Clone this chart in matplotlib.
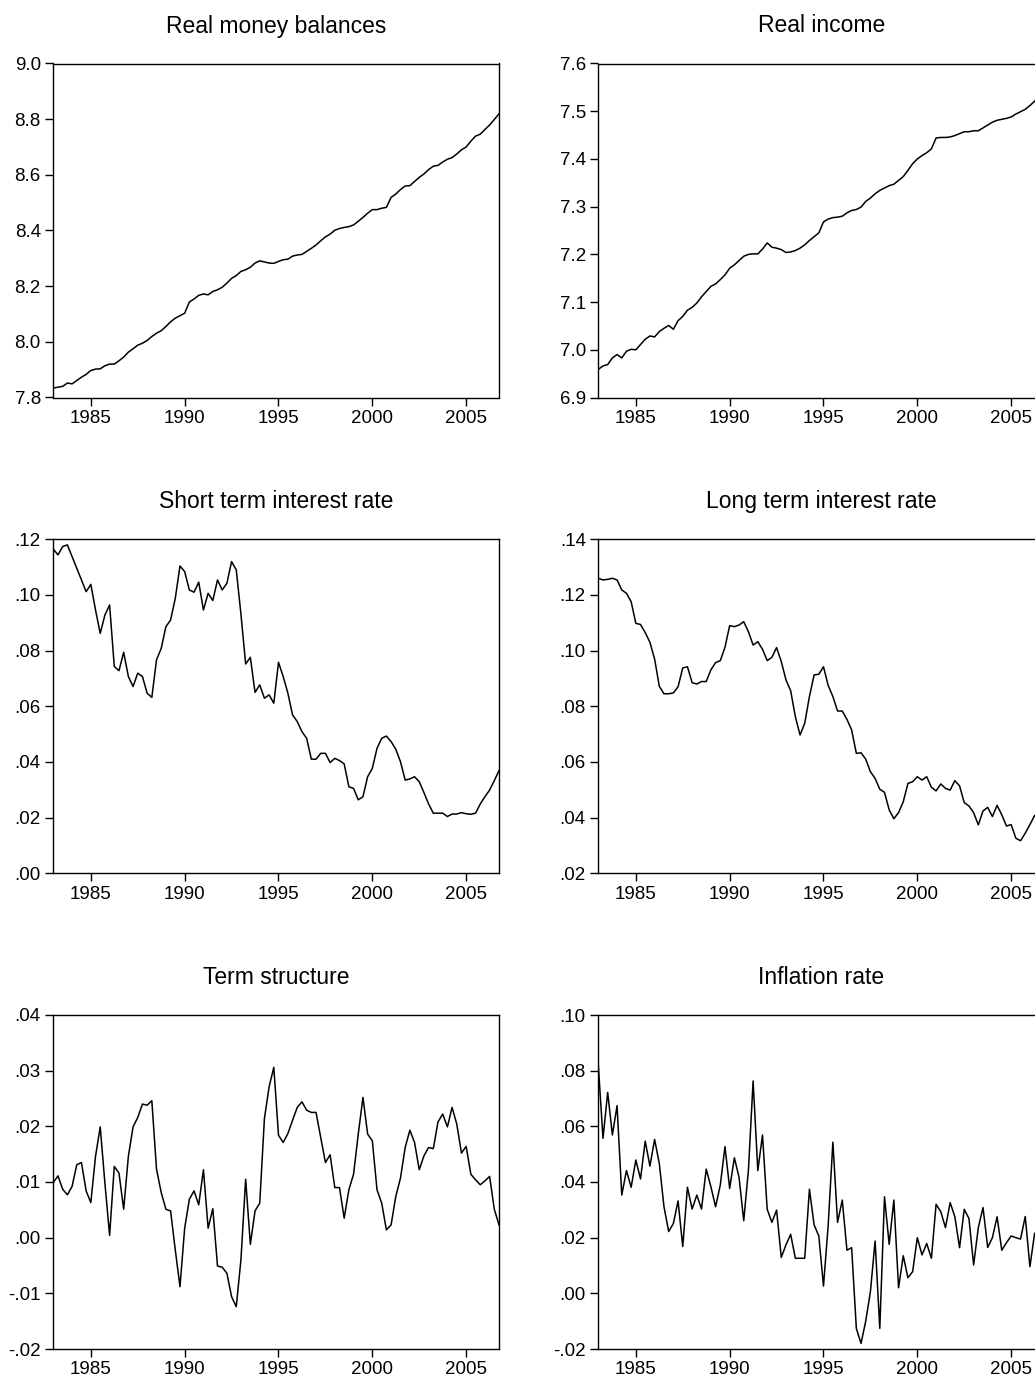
import matplotlib
matplotlib.use("Agg")
import matplotlib.pyplot as plt
import matplotlib.transforms as mtransforms
from matplotlib.ticker import FuncFormatter, MultipleLocator
import numpy as np

plt.rcParams['font.family'] = ['Liberation Sans', 'DejaVu Sans']

# quarterly observations 1983Q1 - 2006Q4
start_year = 1983
n_obs = 96
dates = start_year + np.arange(n_obs) * 0.25

real_money = [
    7.834, 7.837, 7.840, 7.852, 7.849, 7.861, 7.873, 7.883, 7.897, 7.902,
    7.903, 7.914, 7.920, 7.920, 7.932, 7.945, 7.963, 7.975, 7.988, 7.995,
    8.005, 8.019, 8.031, 8.040, 8.055, 8.072, 8.085, 8.094, 8.103, 8.143,
    8.154, 8.167, 8.172, 8.169, 8.181, 8.187, 8.196, 8.211, 8.228, 8.238,
    8.253, 8.259, 8.268, 8.283, 8.291, 8.287, 8.283, 8.282, 8.289, 8.295,
    8.297, 8.308, 8.312, 8.314, 8.325, 8.336, 8.348, 8.363, 8.377, 8.387,
    8.401, 8.407, 8.411, 8.414, 8.420, 8.433, 8.447, 8.462, 8.475, 8.475,
    8.480, 8.483, 8.519, 8.531, 8.547, 8.560, 8.561, 8.576, 8.591, 8.603,
    8.619, 8.631, 8.634, 8.646, 8.656, 8.662, 8.675, 8.690, 8.700, 8.721,
    8.739, 8.746, 8.763, 8.779, 8.799, 8.819,
]

real_income = [
    6.959, 6.966, 6.969, 6.983, 6.990, 6.983, 6.997, 7.001, 7.000, 7.011,
    7.022, 7.029, 7.027, 7.038, 7.045, 7.051, 7.043, 7.061, 7.070, 7.083,
    7.089, 7.098, 7.111, 7.122, 7.133, 7.138, 7.147, 7.157, 7.171, 7.178,
    7.187, 7.196, 7.200, 7.201, 7.201, 7.211, 7.224, 7.215, 7.213, 7.210,
    7.204, 7.205, 7.208, 7.213, 7.220, 7.229, 7.237, 7.245, 7.268, 7.274,
    7.277, 7.278, 7.280, 7.287, 7.292, 7.294, 7.299, 7.311, 7.318, 7.327,
    7.334, 7.339, 7.344, 7.347, 7.355, 7.363, 7.376, 7.390, 7.400, 7.407,
    7.413, 7.421, 7.444, 7.445, 7.445, 7.446, 7.449, 7.453, 7.457, 7.457,
    7.459, 7.459, 7.465, 7.471, 7.477, 7.481, 7.483, 7.485, 7.488, 7.494,
    7.499, 7.504, 7.512, 7.521, 7.530, 7.537,
]

short_rate = [
    0.1165, 0.1144, 0.1174, 0.1180, 0.1138, 0.1096, 0.1054, 0.1012, 0.1038, 0.0946,
    0.0862, 0.0928, 0.0964, 0.0743, 0.0728, 0.0794, 0.0707, 0.0671, 0.0719, 0.0707,
    0.0647, 0.0632, 0.0767, 0.0808, 0.0886, 0.0910, 0.0988, 0.1104, 0.1084, 0.1018,
    0.1010, 0.1046, 0.0946, 0.1006, 0.0980, 0.1054, 0.1018, 0.1042, 0.1120, 0.1090,
    0.0930, 0.0752, 0.0776, 0.0650, 0.0677, 0.0629, 0.0641, 0.0611, 0.0758, 0.0707,
    0.0647, 0.0569, 0.0545, 0.0509, 0.0485, 0.0410, 0.0410, 0.0431, 0.0431, 0.0398,
    0.0413, 0.0405, 0.0393, 0.0311, 0.0305, 0.0264, 0.0275, 0.0347, 0.0377, 0.0449,
    0.0485, 0.0493, 0.0473, 0.0446, 0.0401, 0.0335, 0.0339, 0.0347, 0.0329, 0.0290,
    0.0249, 0.0216, 0.0216, 0.0216, 0.0204, 0.0213, 0.0213, 0.0218, 0.0214, 0.0212,
    0.0216, 0.0249, 0.0275, 0.0299, 0.0333, 0.0369,
]

long_rate = [
    0.1260, 0.1254, 0.1256, 0.1260, 0.1254, 0.1218, 0.1206, 0.1176, 0.1098, 0.1094,
    0.1065, 0.1030, 0.0970, 0.0872, 0.0845, 0.0845, 0.0848, 0.0870, 0.0938, 0.0942,
    0.0885, 0.0880, 0.0889, 0.0889, 0.0931, 0.0957, 0.0964, 0.1012, 0.1090, 0.1086,
    0.1092, 0.1104, 0.1068, 0.1020, 0.1032, 0.1005, 0.0964, 0.0976, 0.1011, 0.0961,
    0.0895, 0.0856, 0.0763, 0.0697, 0.0739, 0.0835, 0.0913, 0.0915, 0.0942, 0.0875,
    0.0835, 0.0783, 0.0783, 0.0753, 0.0715, 0.0631, 0.0633, 0.0610, 0.0565, 0.0541,
    0.0502, 0.0491, 0.0428, 0.0396, 0.0418, 0.0457, 0.0523, 0.0529, 0.0547, 0.0535,
    0.0547, 0.0509, 0.0496, 0.0521, 0.0505, 0.0499, 0.0533, 0.0514, 0.0454, 0.0442,
    0.0418, 0.0374, 0.0424, 0.0437, 0.0404, 0.0444, 0.0410, 0.0370, 0.0375, 0.0326,
    0.0317, 0.0344, 0.0375, 0.0408, 0.0384, 0.0392,
]

term_structure = [
    0.0099, 0.0111, 0.0087, 0.0077, 0.0092, 0.0131, 0.0135, 0.0084, 0.0063, 0.0146,
    0.0199, 0.0098, 0.0004, 0.0128, 0.0116, 0.0051, 0.0146, 0.0199, 0.0216, 0.0240,
    0.0238, 0.0246, 0.0123, 0.0081, 0.0051, 0.0048, -0.0022, -0.0088, 0.0017, 0.0069,
    0.0084, 0.0059, 0.0122, 0.0017, 0.0052, -0.0051, -0.0053, -0.0064, -0.0106, -0.0124,
    -0.0039, 0.0105, -0.0012, 0.0048, 0.0062, 0.0214, 0.0271, 0.0306, 0.0184, 0.0171,
    0.0187, 0.0211, 0.0234, 0.0244, 0.0229, 0.0225, 0.0225, 0.0180, 0.0135, 0.0149,
    0.0090, 0.0090, 0.0035, 0.0086, 0.0114, 0.0186, 0.0252, 0.0186, 0.0174, 0.0086,
    0.0062, 0.0014, 0.0023, 0.0074, 0.0107, 0.0162, 0.0193, 0.0171, 0.0122, 0.0147,
    0.0162, 0.0160, 0.0208, 0.0222, 0.0199, 0.0234, 0.0204, 0.0152, 0.0164, 0.0114,
    0.0104, 0.0095, 0.0102, 0.0110, 0.0051, 0.0023,
]

inflation = [
    0.0820, 0.0557, 0.0722, 0.0569, 0.0674, 0.0353, 0.0441, 0.0381, 0.0479, 0.0411,
    0.0547, 0.0457, 0.0553, 0.0467, 0.0311, 0.0222, 0.0251, 0.0332, 0.0168, 0.0381,
    0.0303, 0.0353, 0.0303, 0.0446, 0.0383, 0.0311, 0.0389, 0.0527, 0.0377, 0.0487,
    0.0417, 0.0261, 0.0443, 0.0763, 0.0441, 0.0569, 0.0302, 0.0255, 0.0299, 0.0129,
    0.0174, 0.0212, 0.0126, 0.0126, 0.0126, 0.0374, 0.0246, 0.0206, 0.0026, 0.0245,
    0.0543, 0.0255, 0.0335, 0.0155, 0.0164, -0.0126, -0.0180, -0.0100, 0.0006, 0.0188,
    -0.0126, 0.0347, 0.0176, 0.0335, 0.0020, 0.0135, 0.0056, 0.0078, 0.0200, 0.0138,
    0.0179, 0.0126, 0.0320, 0.0293, 0.0236, 0.0326, 0.0275, 0.0164, 0.0302, 0.0269,
    0.0102, 0.0236, 0.0308, 0.0165, 0.0200, 0.0275, 0.0155, 0.0182, 0.0206, 0.0200,
    0.0195, 0.0276, 0.0096, 0.0216, 0.0190, 0.0180,
]

titles = ["Real money balances", "Real income",
          "Short term interest rate", "Long term interest rate",
          "Term structure", "Inflation rate"]
series = [real_money, real_income, short_rate, long_rate, term_structure, inflation]
y_limits = [(7.8, 9.0), (6.9, 7.6), (0.0, 0.12), (0.02, 0.14), (-0.02, 0.04), (-0.02, 0.10)]
y_steps = [0.2, 0.1, 0.02, 0.02, 0.01, 0.02]
year_ticks = [1985, 1990, 1995, 2000, 2005]


def fmt_one(v, pos):
    return f"{v:.1f}"


def fmt_rate(v, pos):
    s = f"{v:.2f}"
    return s.replace("0.", ".", 1)


fig = plt.figure(figsize=(10.35, 13.77), dpi=100)
W, H = 1035.0, 1377.0

# axes boxes in pixels: left x, top y, bottom y
col_left = [53.3, 598.3]
ax_width = 445.7
row_top = [63.5, 539.3, 1015.0]
row_bot = [397.5, 873.3, 1349.0]

for k in range(6):
    r, c = divmod(k, 2)
    left = col_left[c] / W
    bottom = (H - row_bot[r]) / H
    height = (row_bot[r] - row_top[r]) / H
    ax = fig.add_axes([left, bottom, ax_width / W, height])

    ax.plot(dates, series[k], color='black', lw=1.1)
    ax.set_xlim(dates[0], dates[-1])
    ax.set_ylim(*y_limits[k])
    ax.set_xticks(year_ticks)
    ax.yaxis.set_major_locator(MultipleLocator(y_steps[k]))
    ax.yaxis.set_major_formatter(FuncFormatter(fmt_one if k < 2 else fmt_rate))

    ax.tick_params(axis='both', direction='out', length=6, width=1,
                   labelsize=13.5, colors='black')
    ax.tick_params(axis='x', pad=3)
    ax.tick_params(axis='y', pad=3)
    for sp in ax.spines.values():
        sp.set_linewidth(1.0)
        sp.set_color('black')

    trans = mtransforms.offset_copy(ax.transAxes, fig=fig, x=0, y=37.5, units='dots')
    ax.text(0.5, 1.0, titles[k], transform=trans, ha='center', va='center',
            fontsize=16.5)

fig.savefig("out.png", dpi=100)
